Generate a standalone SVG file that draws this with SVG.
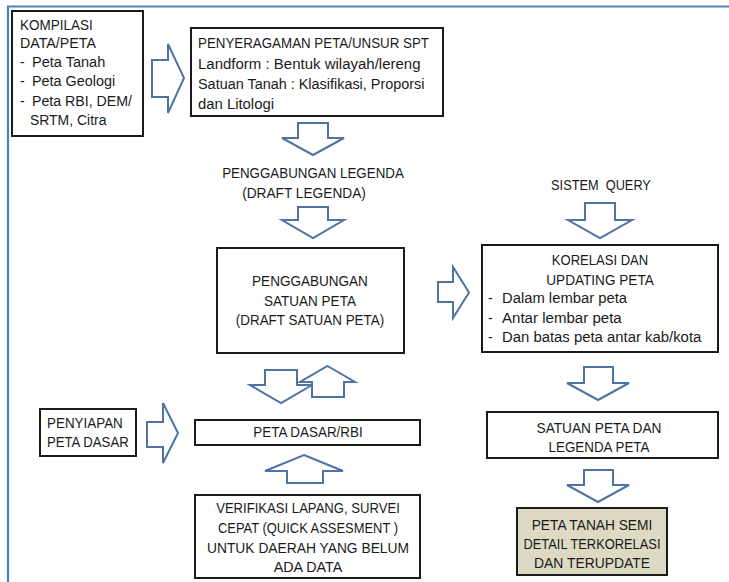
<svg xmlns="http://www.w3.org/2000/svg" width="729" height="582" viewBox="0 0 729 582">
<style>
.box{fill:#fff;stroke:#1a1a1a;stroke-width:2}
.fin{fill:#DDD9C3;stroke:#1a1a1a;stroke-width:2}
.arr{fill:#fff;stroke:#4f73a3;stroke-width:2;stroke-linejoin:miter}
text{font-family:"Liberation Sans",Arial,sans-serif;font-size:14px;fill:#1a1a1a}
.c{text-anchor:middle}
.frame{stroke:#4F81BD;stroke-width:2.2;fill:none}
</style>
<rect width="729" height="582" fill="#fff"/>
<path class="frame" d="M8,582 V6.5 H729"/>

<g id="connectors">
<polygon class="arr" points="152,60 168,60 168,44 184,78 168,113 168,97 152,97"/>
<polygon class="arr" points="298,123 328,123 328,138 344,138 313,155 282,138 298,138"/>
<polygon class="arr" points="298,207 328,207 328,220 344,220 313,238 282,220 298,220"/>
<polygon class="arr" points="265,370 297,370 297,385 312,385 281,403 250,385 265,385"/>
<polygon class="arr" points="327.5,366 355,382 344,382 344,397 312,397 312,382 300,382"/>
<polygon class="arr" points="438,282 453,282 453,267 469,292.5 453,318 453,302 438,302"/>
<polygon class="arr" points="147,422 163,422 163,403 178,433 163,463 163,447 147,447"/>
<polygon class="arr" points="304,455 343,471 323,471 323,483 287,483 287,471 265,471"/>
<polygon class="arr" points="585,203 615,203 615,220 632,220 600,238 568,220 585,220"/>
<polygon class="arr" points="584,367 613,367 613,383 629,383 598,400 567,383 584,383"/>
<polygon class="arr" points="584,470 613,470 613,485 629,485 598,502 567,485 584,485"/>
</g>

<g id="kompilasi">
<rect class="box" x="12" y="11" width="131" height="125"/>
<text x="20" y="29.5" textLength="72.7" lengthAdjust="spacingAndGlyphs">KOMPILASI</text>
<text x="20" y="48" textLength="75.9" lengthAdjust="spacingAndGlyphs">DATA/PETA</text>
<text x="20" y="67">-</text><text x="32" y="67" textLength="73.3" lengthAdjust="spacingAndGlyphs">Peta Tanah</text>
<text x="20" y="86">-</text><text x="32" y="86" textLength="83.2" lengthAdjust="spacingAndGlyphs">Peta Geologi</text>
<text x="20" y="106">-</text><text x="32" y="106" textLength="100" lengthAdjust="spacingAndGlyphs">Peta RBI, DEM/</text>
<text x="30" y="125" textLength="76.4" lengthAdjust="spacingAndGlyphs">SRTM, Citra</text>
</g>

<g id="penyeragaman">
<rect class="box" x="191" y="28" width="252" height="88"/>
<text x="198" y="48" textLength="231" lengthAdjust="spacingAndGlyphs">PENYERAGAMAN PETA/UNSUR SPT</text>
<text x="198" y="68.5" textLength="222.5" lengthAdjust="spacingAndGlyphs">Landform : Bentuk wilayah/lereng</text>
<text x="198" y="89" textLength="226.5" lengthAdjust="spacingAndGlyphs">Satuan Tanah : Klasifikasi, Proporsi</text>
<text x="198" y="108.5" textLength="76" lengthAdjust="spacingAndGlyphs">dan Litologi</text>
</g>

<g id="legenda">
<text class="c" x="313" y="177.5" textLength="181.7" lengthAdjust="spacingAndGlyphs">PENGGABUNGAN LEGENDA</text>
<text class="c" x="304" y="197.5" textLength="123.7" lengthAdjust="spacingAndGlyphs">(DRAFT LEGENDA)</text>
</g>

<g id="satuan">
<rect class="box" x="217" y="248" width="187" height="105"/>
<text class="c" x="310" y="286" textLength="115.8" lengthAdjust="spacingAndGlyphs">PENGGABUNGAN</text>
<text class="c" x="310" y="305.5" textLength="91.8" lengthAdjust="spacingAndGlyphs">SATUAN PETA</text>
<text class="c" x="310" y="325" textLength="148.4" lengthAdjust="spacingAndGlyphs">(DRAFT SATUAN PETA)</text>
</g>

<g id="query">
<text class="c" x="601" y="190" textLength="99.8" lengthAdjust="spacingAndGlyphs" xml:space="preserve">SISTEM  QUERY</text>
</g>

<g id="korelasi">
<rect class="box" x="482" y="245" width="236" height="107"/>
<text class="c" x="600" y="264.5" textLength="96.4" lengthAdjust="spacingAndGlyphs">KORELASI DAN</text>
<text class="c" x="600" y="284.5" textLength="107.5" lengthAdjust="spacingAndGlyphs">UPDATING PETA</text>
<text x="488" y="303">-</text><text x="502" y="303" textLength="125" lengthAdjust="spacingAndGlyphs">Dalam lembar peta</text>
<text x="488" y="322.5">-</text><text x="502" y="322.5" textLength="119.7" lengthAdjust="spacingAndGlyphs">Antar lembar peta</text>
<text x="488" y="342">-</text><text x="502" y="342" textLength="199.3" lengthAdjust="spacingAndGlyphs">Dan batas peta antar kab/kota</text>
</g>

<g id="satuan-legenda">
<rect class="box" x="487" y="412" width="231" height="46"/>
<text class="c" x="599" y="432.5" textLength="125" lengthAdjust="spacingAndGlyphs">SATUAN PETA DAN</text>
<text class="c" x="599" y="451.5" textLength="101" lengthAdjust="spacingAndGlyphs">LEGENDA PETA</text>
</g>

<g id="peta-tanah">
<rect class="fin" x="517" y="508" width="150" height="67"/>
<text class="c" x="592" y="530" textLength="120.6" lengthAdjust="spacingAndGlyphs">PETA TANAH SEMI</text>
<text class="c" x="592" y="548.5" textLength="137" lengthAdjust="spacingAndGlyphs">DETAIL TERKORELASI</text>
<text class="c" x="592" y="567.5" textLength="116" lengthAdjust="spacingAndGlyphs">DAN TERUPDATE</text>
</g>

<g id="penyiapan">
<rect class="box" x="40" y="409" width="96" height="47"/>
<text x="47" y="427.5" textLength="75.8" lengthAdjust="spacingAndGlyphs">PENYIAPAN</text>
<text x="47" y="446.5" textLength="81.7" lengthAdjust="spacingAndGlyphs">PETA DASAR</text>
</g>

<g id="peta-dasar">
<rect class="box" x="195" y="420" width="225" height="25"/>
<text class="c" x="308" y="436.5" textLength="109.4" lengthAdjust="spacingAndGlyphs">PETA DASAR/RBI</text>
</g>

<g id="verifikasi">
<rect class="box" x="195" y="495" width="225" height="83"/>
<text class="c" x="308" y="512.5" textLength="183.7" lengthAdjust="spacingAndGlyphs">VERIFIKASI LAPANG, SURVEI</text>
<text class="c" x="308" y="532.5" textLength="180" lengthAdjust="spacingAndGlyphs">CEPAT (QUICK ASSESMENT )</text>
<text class="c" x="308" y="552.5" textLength="202" lengthAdjust="spacingAndGlyphs">UNTUK DAERAH YANG BELUM</text>
<text class="c" x="308" y="571.5" textLength="68.6" lengthAdjust="spacingAndGlyphs">ADA DATA</text>
</g>
</svg>
